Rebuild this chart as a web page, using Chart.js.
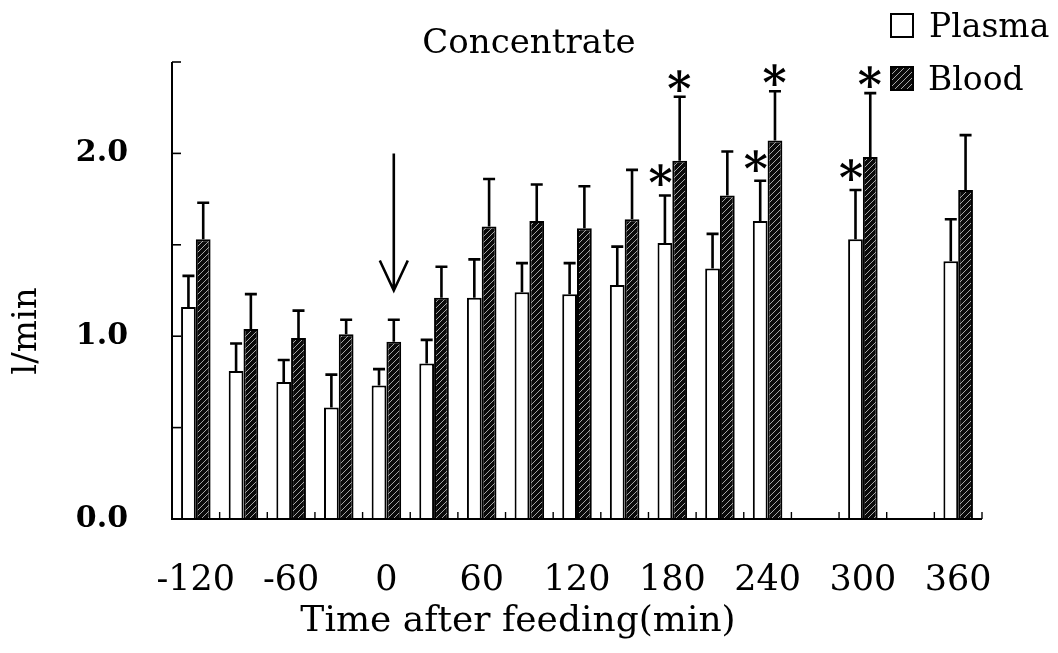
<!DOCTYPE html>
<html><head><meta charset="utf-8">
<script src="https://cdn.jsdelivr.net/npm/chart.js@4/dist/chart.umd.min.js"></script>
<style>html,body{margin:0;padding:0;background:#fff;}#wrap{width:1058px;height:653px;}</style>
</head><body><div id="wrap"><canvas id="c" width="1058" height="653"></canvas></div>
<script>
// ---- data ----
const categories = ['-120','-90','-60','-30','0','30','60','90','120','150','180','210','240','270','300','330','360'];
const xTickLabels = ['-120','-60','0','60','120','180','240','300','360'];
const yTickLabels = ['0.0','1.0','2.0'];
const plasmaMean = [1.16,0.81,0.75,0.61,0.73,0.85,1.21,1.24,1.23,1.28,1.51,1.37,1.63,null,1.53,null,1.41];
const plasmaSE   = [0.17,0.15,0.12,0.18,0.09,0.13,0.21,0.16,0.17,0.21,0.26,0.19,0.22,null,0.27,null,0.23];
const bloodMean  = [1.53,1.04,0.99,1.01,0.97,1.21,1.60,1.63,1.59,1.64,1.96,1.77,2.07,null,1.98,null,1.80];
const bloodSE    = [0.20,0.19,0.15,0.08,0.12,0.17,0.26,0.20,0.23,0.27,0.35,0.24,0.27,null,0.35,null,0.30];
const plasmaSig  = ['180','240','300'];
const bloodSig   = ['180','240','300'];
const seriesNames = ['Plasma','Blood'];
const chartTitle = 'Concentrate';
const xTitle = 'Time after feeding(min)';
const yTitle = 'l/min';
const arrowCategory = '0';
const arrowFrom = 2.0, arrowTo = 1.25;

// ---- styling ----
const SERIF = '"DejaVu Serif", serif';
function makePattern(){
  const c = document.createElement('canvas'); c.width = 6; c.height = 6;
  const g = c.getContext('2d');
  g.fillStyle = '#0a0a0a'; g.fillRect(0,0,6,6);
  g.strokeStyle = '#b8b8b8'; g.lineWidth = 0.9;
  g.beginPath();
  g.moveTo(0,6); g.lineTo(6,0);
  g.moveTo(-3,3); g.lineTo(3,-3);
  g.moveTo(3,9); g.lineTo(9,3);
  g.stroke();
  return document.getElementById('c').getContext('2d').createPattern(c,'repeat');
}
const hatch = makePattern();

const extras = {
  id:'extras',
  afterDatasetsDraw(chart){
    const ctx = chart.ctx, y = chart.scales.y, a = chart.chartArea;
    ctx.save();
    // axes
    ctx.strokeStyle = '#000'; ctx.lineWidth = 2;
    ctx.beginPath(); ctx.moveTo(a.left, y.getPixelForValue(y.max)); ctx.lineTo(a.left, a.bottom); ctx.lineTo(a.right, a.bottom); ctx.stroke();
    // inner ticks y
    ctx.lineWidth = 1.6;
    y.ticks.forEach(t => { const p = y.getPixelForValue(t.value); ctx.beginPath(); ctx.moveTo(a.left, p); ctx.lineTo(a.left+9, p); ctx.stroke(); });
    // inner ticks x at category boundaries
    const n = categories.length, w = (a.right - a.left)/n;
    ctx.lineWidth = 1.4;
    for (let i=1;i<=n;i++){ const px = a.left + i*w; ctx.beginPath(); ctx.moveTo(px, a.bottom); ctx.lineTo(px, a.bottom-7); ctx.stroke(); }
    // error bars
    const SEs = [plasmaSE, bloodSE], means = [plasmaMean, bloodMean];
    ctx.lineWidth = 2.6;
    const tops = [[],[]];
    [0,1].forEach(d => {
      const meta = chart.getDatasetMeta(d);
      meta.data.forEach((el, j) => {
        if (means[d][j] == null) return;
        const yt = y.getPixelForValue(means[d][j] + SEs[d][j]);
        tops[d][j] = {x: el.x, y: yt};
        ctx.beginPath(); ctx.moveTo(el.x, el.y); ctx.lineTo(el.x, yt);
        ctx.moveTo(el.x-6, yt); ctx.lineTo(el.x+6, yt); ctx.stroke();
      });
    });
    // asterisks
    ctx.fillStyle = '#000';
    ctx.font = 'bold 46px ' + SERIF;
    const drawStar = (cx, cy) => {
      const m = ctx.measureText('*');
      const ox = (m.actualBoundingBoxLeft - m.actualBoundingBoxRight)/2;
      const oy = (m.actualBoundingBoxAscent - m.actualBoundingBoxDescent)/2;
      ctx.textAlign = 'left'; ctx.textBaseline = 'alphabetic';
      ctx.fillText('*', cx + ox, cy + oy);
    };
    plasmaSig.forEach(c => { const j = categories.indexOf(c); const t = tops[0][j]; if (t) drawStar(t.x - 4, t.y - 20); });
    bloodSig.forEach(c => { const j = categories.indexOf(c); const t = tops[1][j]; if (t) drawStar(t.x, t.y - 16); });
    // arrow
    const ai = categories.indexOf(arrowCategory);
    const ax = chart.getDatasetMeta(1).data[ai].x;
    const y1 = y.getPixelForValue(arrowFrom), y2 = y.getPixelForValue(arrowTo);
    ctx.lineWidth = 2.6; ctx.lineJoin = 'miter';
    ctx.beginPath(); ctx.moveTo(ax, y1); ctx.lineTo(ax, y2);
    ctx.moveTo(ax-14, y2-30); ctx.lineTo(ax, y2); ctx.lineTo(ax+14, y2-30); ctx.stroke();
    ctx.restore();
  },
  afterDraw(chart){
    const ctx = chart.ctx;
    ctx.save();
    ctx.fillStyle = '#000';
    ctx.textBaseline = 'alphabetic';
    ctx.textAlign = 'center';
    // title
    ctx.font = '34px ' + SERIF;
    ctx.fillText(chartTitle, 529, 53);
    // x title
    ctx.font = '36px ' + SERIF;
    ctx.fillText(xTitle, 518, 631);
    // y title
    ctx.save(); ctx.translate(27, 331); ctx.rotate(-Math.PI/2);
    ctx.textBaseline = 'middle';
    ctx.font = '34px ' + SERIF; ctx.fillText(yTitle, 0, 0); ctx.restore();
    // legend
    ctx.textAlign = 'left'; ctx.font = '33px ' + SERIF;
    ctx.lineWidth = 2; ctx.strokeStyle = '#000';
    ctx.fillStyle = '#fff'; ctx.fillRect(891,14,22,23); ctx.strokeRect(891,14,22,23);
    ctx.fillStyle = hatch; ctx.fillRect(891,67,22,23); ctx.strokeRect(891,67,22,23);
    ctx.fillStyle = '#000';
    ctx.fillText(seriesNames[0], 929, 37);
    ctx.fillText(seriesNames[1], 928, 90);
    ctx.restore();
  }
};

new Chart(document.getElementById('c'), {
  type:'bar',
  data:{
    labels: categories,
    datasets:[
      {label:seriesNames[0], data:plasmaMean, backgroundColor:'#fff', borderColor:'#000', borderWidth:2, borderSkipped:'bottom'},
      {label:seriesNames[1], data:bloodMean, backgroundColor:hatch, borderColor:'#000', borderWidth:2, borderSkipped:'bottom'}
    ]
  },
  plugins:[extras],
  options:{
    responsive:false, animation:false, devicePixelRatio:1,
    layout:{padding:{left:0, top:60, right:76, bottom:0}},
    plugins:{legend:{display:false}, title:{display:false}, tooltip:{enabled:false}},
    datasets:{bar:{categoryPercentage:0.62, barPercentage:1.0}},
    scales:{
      x:{
        grid:{display:false, drawTicks:false}, border:{display:false},
        ticks:{autoSkip:false, maxRotation:0, padding:41, color:'#000', font:{family:SERIF, size:35},
          callback(v,i){ const l = categories[i]; return xTickLabels.includes(l) ? l : ''; }},
        afterFit(s){ s.height = 134; }
      },
      y:{
        min:0, max:2.5,
        grid:{display:false, drawTicks:false}, border:{display:false},
        ticks:{stepSize:0.5, padding:44, color:'#000', font:{family:SERIF, size:30, weight:'bold'},
          callback(v){ const s = Number(v).toFixed(1); return yTickLabels.includes(s) ? s : ''; }},
        afterFit(s){ s.width = 172; }
      }
    }
  }
});
</script></body></html>
